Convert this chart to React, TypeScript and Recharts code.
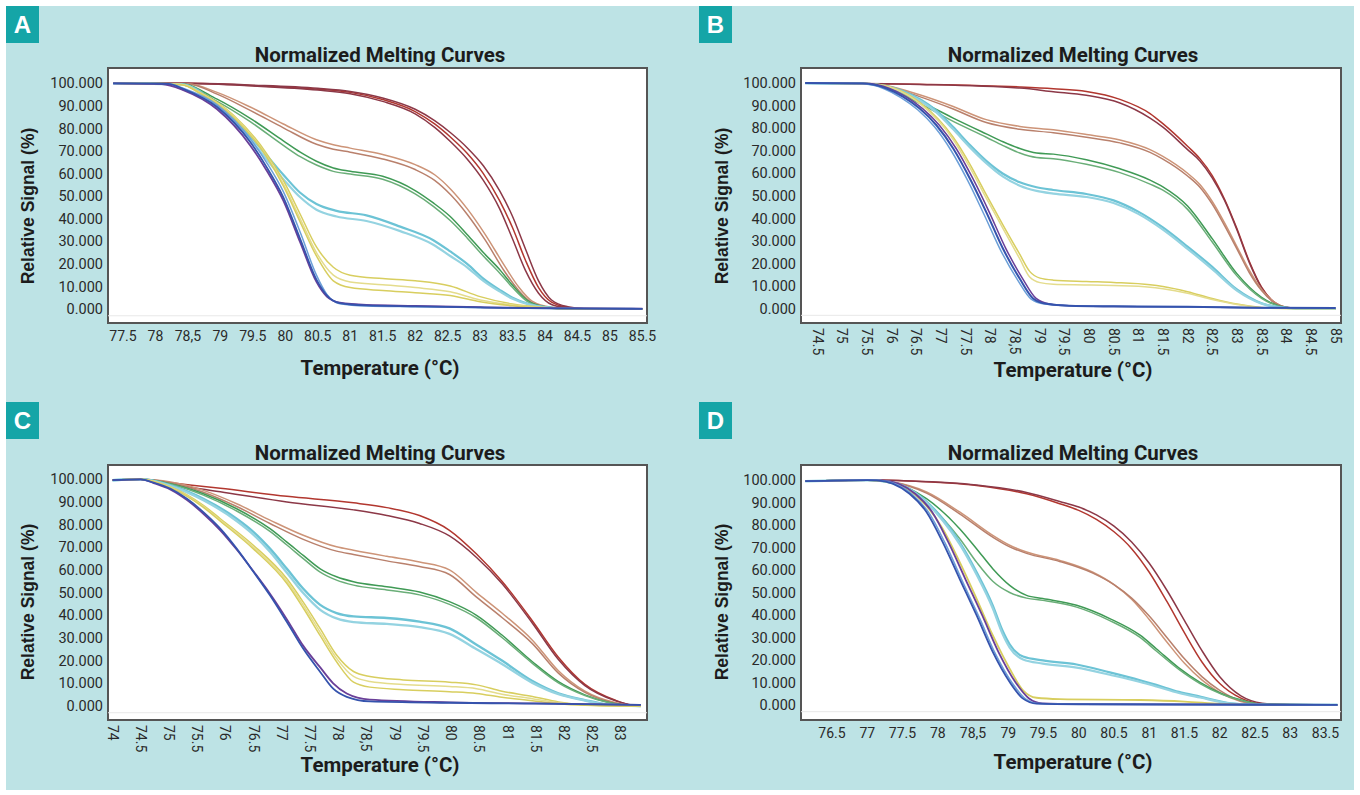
import React from "react";
import {
  CartesianGrid,
  Line,
  LineChart,
  ReferenceArea,
  ReferenceLine,
  XAxis,
  YAxis,
} from "recharts";

type Pt = [number, number];

// ---------- Panel A (temperature °C, relative signal %) ----------
const aRed1: Pt[] = [[77.35, 100], [78.5, 100], [79.5, 99], [80.5, 97.4], [81, 96], [81.5, 92.8], [82, 87.5], [82.3, 82], [82.55, 76], [82.8, 69], [83.05, 60], [83.3, 48], [83.5, 36], [83.7, 21.5], [83.9, 9.5], [84.1, 3], [84.35, 0.7], [84.6, 0.1], [85.5, 0]];
const aRed2: Pt[] = [[77.35, 100], [78.5, 100], [79.5, 99.2], [80.5, 97.8], [81, 96.4], [81.5, 93.5], [82, 88.5], [82.3, 83.5], [82.55, 78], [82.8, 71.5], [83.05, 63.5], [83.3, 52.5], [83.5, 41], [83.7, 26.5], [83.9, 12.5], [84.1, 4], [84.35, 1], [84.6, 0.2], [85.5, 0]];
const aRed3: Pt[] = [[77.35, 100], [78.5, 99.9], [79.5, 98.8], [80.5, 97], [81, 95.4], [81.5, 92], [82, 86.5], [82.3, 80.5], [82.55, 74], [82.8, 66.5], [83.05, 57], [83.3, 44.5], [83.5, 31], [83.7, 17], [83.9, 7], [84.1, 2], [84.35, 0.5], [84.6, 0], [85.5, 0]];
const aSalmon1: Pt[] = [[77.35, 100], [78.5, 99.8], [78.95, 96], [79.46, 89.5], [79.97, 82], [80.48, 75], [80.74, 72.8], [81, 71.3], [81.5, 68.5], [82, 64], [82.3, 59.5], [82.55, 53], [82.8, 44.5], [83.08, 33], [83.38, 19], [83.6, 9.5], [83.8, 3.5], [84.1, 0.8], [84.5, 0.1], [85.5, 0]];
const aSalmon2: Pt[] = [[77.35, 100], [78.5, 99.7], [78.95, 95.2], [79.46, 88], [79.97, 80.3], [80.48, 73], [80.74, 70.8], [81, 69.5], [81.5, 66.5], [82, 61.8], [82.3, 57], [82.55, 50.5], [82.8, 42], [83.08, 30.5], [83.38, 16.5], [83.6, 8], [83.8, 2.8], [84.1, 0.5], [84.5, 0], [85.5, 0]];
const aGreen1: Pt[] = [[77.35, 100], [78.4, 99.8], [78.95, 93], [79.46, 84.5], [79.97, 74.5], [80.23, 69.5], [80.48, 65.5], [80.74, 62.5], [81, 61], [81.5, 58.8], [82, 52.5], [82.28, 47], [82.54, 41], [82.8, 33], [83.05, 25], [83.3, 17.5], [83.5, 10.5], [83.72, 4], [84, 1], [84.4, 0.1], [85.5, 0]];
const aGreen2: Pt[] = [[77.35, 100], [78.4, 99.7], [78.95, 92], [79.46, 83], [79.97, 72.5], [80.23, 67.5], [80.48, 63.8], [80.74, 61], [81, 59.8], [81.5, 57.5], [82, 51], [82.28, 45.5], [82.54, 39.2], [82.8, 31.5], [83.05, 23.5], [83.3, 16], [83.5, 9.5], [83.72, 3.5], [84, 0.8], [84.4, 0.1], [85.5, 0]];
const aCyan1: Pt[] = [[77.35, 100], [78.4, 99.6], [78.95, 90.5], [79.46, 76.5], [79.97, 59.5], [80.23, 51.5], [80.48, 46.5], [80.79, 43.5], [81.25, 41.5], [81.77, 36.5], [82.28, 30.5], [82.54, 25.5], [82.8, 20], [83.05, 13.5], [83.3, 8.5], [83.5, 5], [83.75, 2.2], [84, 0.8], [84.4, 0.1], [85.5, 0]];
const aCyan2: Pt[] = [[77.35, 100], [78.4, 99.5], [78.95, 89.5], [79.46, 75], [79.97, 57.5], [80.23, 49.5], [80.48, 44], [80.79, 41], [81.25, 39], [81.77, 34.5], [82.28, 28.5], [82.54, 23.5], [82.8, 18.5], [83.05, 12.5], [83.3, 7.8], [83.5, 4.5], [83.75, 2], [84, 0.7], [84.4, 0.1], [85.5, 0]];
const aYellow1: Pt[] = [[77.35, 100], [78.4, 99.5], [78.69, 96], [79.2, 86], [79.71, 69], [79.97, 57], [80.23, 42], [80.48, 27.5], [80.74, 18.5], [81, 15], [81.5, 13.5], [82, 12.5], [82.54, 10.2], [83, 5.5], [83.5, 2.2], [84, 0.7], [84.5, 0.1], [85.5, 0]];
const aYellow2: Pt[] = [[77.35, 100], [78.4, 99.5], [78.69, 95.8], [79.2, 85.5], [79.71, 68], [79.97, 55.5], [80.23, 40], [80.48, 25], [80.74, 15], [81, 12], [81.5, 10.8], [82, 9.5], [82.54, 7.6], [83, 4], [83.5, 1.8], [84, 0.5], [84.5, 0.1], [85.5, 0]];
const aYellow3: Pt[] = [[77.35, 100], [78.4, 99.4], [78.69, 95.5], [79.2, 85], [79.71, 67.5], [79.97, 54.5], [80.23, 38.5], [80.48, 23.5], [80.74, 12.5], [81, 9.5], [81.5, 8.2], [82, 7.2], [82.54, 6], [83, 3.2], [83.5, 1.4], [84, 0.4], [84.5, 0], [85.5, 0]];
const aBlue1: Pt[] = [[77.35, 100], [78.2, 99.8], [78.43, 97.5], [78.95, 89.5], [79.46, 74], [79.71, 63], [79.97, 49.5], [80.23, 31], [80.48, 13], [80.64, 6], [80.84, 2.6], [81.25, 1.6], [82, 1.2], [83, 0.7], [84, 0.3], [85.5, 0.1]];
const aBlue2: Pt[] = [[77.35, 100], [78.2, 99.8], [78.43, 97.8], [78.95, 90.5], [79.46, 75.5], [79.71, 65], [79.97, 52], [80.23, 34], [80.48, 15], [80.64, 6.5], [80.84, 2.3], [81.25, 1.3], [82, 1], [83, 0.6], [84, 0.3], [85.5, 0.1]];
const aPurple: Pt[] = [[77.35, 100], [78.1, 99.7], [78.43, 97], [78.95, 88.5], [79.46, 72.5], [79.71, 61.5], [79.97, 48], [80.23, 29.5], [80.48, 12], [80.64, 5.5], [80.84, 2.8], [81.25, 1.8], [82, 1.4], [83, 0.8], [84, 0.4], [85.5, 0.2]];
const aTicks = ["77.5", "78", "78,5", "79", "79.5", "80", "80.5", "81", "81.5", "82", "82.5", "83", "83.5", "84", "84.5", "85", "85.5"];

// ---------- Panel B ----------
const bRed1: Pt[] = [[74.25, 100], [76.57, 99.5], [78.6, 98.3], [79.28, 97.5], [79.95, 96.3], [80.63, 92.8], [81.24, 86.5], [81.5, 82], [82, 72], [82.25, 66.5], [82.5, 59], [82.75, 48.5], [83, 35.5], [83.25, 21], [83.5, 9.5], [83.75, 3], [84, 0.6], [84.3, 0], [85, 0]];
const bRed2: Pt[] = [[74.25, 100], [76.57, 99.4], [78.6, 97.8], [79.28, 96.2], [79.95, 94.6], [80.63, 91.2], [81.24, 84.5], [81.5, 80.5], [82, 70.5], [82.25, 65.5], [82.5, 58], [82.75, 48], [83, 35], [83.25, 20.5], [83.5, 9.2], [83.75, 2.8], [84, 0.5], [84.3, 0], [85, 0]];
const bSalmon1: Pt[] = [[74.25, 100], [75.5, 99.8], [75.9, 98.8], [76.57, 94.8], [77.25, 89.6], [77.92, 83.8], [78.6, 80.8], [79.28, 79.3], [79.95, 77.2], [80.63, 74.8], [81.24, 70.5], [81.5, 67.5], [82, 60], [82.25, 55], [82.5, 47.5], [82.75, 38], [83, 27.5], [83.25, 17], [83.5, 8.5], [83.75, 3], [84, 0.6], [84.3, 0], [85, 0]];
const bSalmon2: Pt[] = [[74.25, 100], [75.5, 99.7], [75.9, 98.5], [76.57, 94], [77.25, 88.5], [77.92, 82.5], [78.6, 79.5], [79.28, 78], [79.95, 76], [80.63, 73.5], [81.24, 69.3], [81.5, 66.3], [82, 58.8], [82.25, 53.8], [82.5, 46.3], [82.75, 36.8], [83, 26.5], [83.25, 16], [83.5, 8], [83.75, 2.7], [84, 0.5], [84.3, 0], [85, 0]];
const bGreen1: Pt[] = [[74.25, 100], [75.5, 99.8], [75.9, 98.4], [76.57, 92], [77.25, 84.5], [77.92, 77.5], [78.26, 74], [78.6, 71], [78.94, 69], [79.28, 68.5], [79.95, 66], [80.63, 62], [81.24, 57], [81.5, 54], [82, 45.5], [82.5, 31], [83, 15.5], [83.5, 5], [84, 0.5], [84.3, 0], [85, 0]];
const bGreen2: Pt[] = [[74.25, 100], [75.5, 99.7], [75.9, 98], [76.57, 91], [77.25, 83], [77.92, 76], [78.26, 72.3], [78.6, 69], [78.94, 67], [79.28, 66.5], [79.95, 64], [80.63, 60.3], [81.24, 55.2], [81.5, 52.5], [82, 44], [82.5, 29.5], [83, 14.5], [83.5, 4.5], [84, 0.4], [84.3, 0], [85, 0]];
const bCyan1: Pt[] = [[74.25, 100], [75.5, 99.7], [76.23, 96.5], [76.91, 87.8], [77.25, 80.5], [77.59, 72.5], [77.92, 65.5], [78.26, 59.8], [78.6, 56], [78.94, 53.8], [79.28, 52.6], [79.95, 50.8], [80.5, 48], [81, 43], [81.5, 36], [82, 27.5], [82.5, 18.5], [83, 8.5], [83.5, 2.4], [84, 0.3], [84.3, 0], [85, 0]];
const bCyan2: Pt[] = [[74.25, 100], [75.5, 99.6], [76.23, 96], [76.91, 87], [77.25, 79.5], [77.59, 71.5], [77.92, 64.5], [78.26, 58.5], [78.6, 54.5], [78.94, 52.2], [79.28, 51], [79.95, 49.5], [80.5, 46.8], [81, 42], [81.5, 35], [82, 26.5], [82.5, 17.5], [83, 8], [83.5, 2.2], [84, 0.3], [84.3, 0], [85, 0]];
const bYellow1: Pt[] = [[74.25, 100], [75.6, 99.6], [76.57, 91.5], [77.25, 76], [77.59, 64], [77.92, 50.5], [78.26, 37], [78.6, 24], [78.8, 16.5], [79.01, 13.5], [79.28, 12.6], [79.95, 12], [80.5, 11.6], [81.24, 10.6], [81.5, 9.8], [82, 7.5], [82.5, 4.5], [83, 2], [83.5, 0.5], [84, 0], [85, 0]];
const bYellow2: Pt[] = [[74.25, 100], [75.6, 99.5], [76.57, 91], [77.25, 75], [77.59, 62.5], [77.92, 49], [78.26, 35.5], [78.6, 22], [78.8, 14], [79.01, 11.5], [79.28, 10.8], [79.95, 10.5], [80.5, 10.2], [81.24, 9.5], [81.5, 8.8], [82, 6.8], [82.5, 4], [83, 1.8], [83.5, 0.4], [84, 0], [85, 0]];
const bBlue1: Pt[] = [[74.25, 100], [75.42, 99.8], [75.9, 97.6], [76.23, 94], [76.57, 88.7], [76.91, 81.3], [77.25, 71], [77.59, 57.6], [77.92, 42.8], [78.26, 26.5], [78.6, 13.2], [78.87, 4.5], [79.14, 2.1], [79.6, 1.3], [80.5, 1], [82, 0.8], [83.5, 0.4], [85, 0.2]];
const bBlue2: Pt[] = [[74.25, 100], [75.4, 99.8], [75.86, 97.4], [76.19, 93.6], [76.53, 88.2], [76.87, 80.6], [77.21, 70], [77.55, 56.5], [77.88, 41.5], [78.22, 25.5], [78.56, 12.5], [78.83, 4.2], [79.1, 2], [79.6, 1.2], [80.5, 0.9], [82, 0.7], [83.5, 0.3], [85, 0.1]];
const bPurple: Pt[] = [[74.25, 100], [75.5, 99.8], [75.96, 97.6], [76.29, 94], [76.63, 88.7], [76.97, 81.3], [77.31, 71], [77.65, 57.6], [77.98, 42.8], [78.32, 26.5], [78.66, 13.2], [78.93, 4.5], [79.2, 2], [79.6, 1.2], [80.5, 0.9], [82, 0.7], [83.5, 0.3], [85, 0.1]];
const bTicks = ["74.5", "75", "75.5", "76", "76.5", "77", "77.5", "78", "78,5", "79", "79.5", "80", "80.5", "81", "81.5", "82", "82.5", "83", "83.5", "84", "84.5", "85"];

// ---------- Panel C ----------
const cRed1: Pt[] = [[74, 99.6], [74.5, 100], [74.73, 99.3], [75.91, 96], [77.09, 92.5], [78.27, 89.6], [78.86, 87.5], [79.44, 84], [79.97, 77.5], [80.45, 67], [80.9, 55], [81.44, 37.5], [81.9, 21.5], [82.37, 9.5], [82.9, 2.6], [83.2, 0.4], [83.36, 0.2]];
const cRed2: Pt[] = [[74, 99.6], [74.5, 100], [74.73, 99], [75.91, 94.5], [77.09, 90], [78.27, 86.5], [78.86, 84], [79.44, 80.5], [79.97, 75], [80.45, 65.5], [80.9, 54], [81.44, 36.5], [81.9, 20.5], [82.37, 9], [82.9, 2.4], [83.2, 0.4], [83.36, 0.2]];
const cSalmon1: Pt[] = [[74, 99.6], [74.5, 100], [75.03, 98.8], [75.61, 95.1], [76.2, 89.2], [76.79, 82], [77.38, 75.3], [77.97, 70.2], [78.27, 68.7], [78.86, 66], [79.44, 63.5], [79.97, 60], [80.45, 50], [80.9, 41], [81.44, 29], [81.9, 15.5], [82.37, 6.5], [82.9, 1.5], [83.2, 0.3], [83.36, 0.1]];
const cSalmon2: Pt[] = [[74, 99.6], [74.5, 100], [75.03, 98.5], [75.61, 94.3], [76.2, 88], [76.79, 80.5], [77.38, 73.5], [77.97, 68.3], [78.27, 66.8], [78.86, 64], [79.44, 61.5], [79.97, 58], [80.45, 48], [80.9, 39], [81.44, 27.5], [81.9, 14.5], [82.37, 6], [82.9, 1.3], [83.2, 0.2], [83.36, 0.1]];
const cGreen1: Pt[] = [[74, 99.6], [74.5, 100], [75.03, 98], [75.61, 93.6], [76.2, 87], [76.79, 78.2], [77.09, 72.3], [77.38, 66.4], [77.68, 60.5], [77.97, 57], [78.27, 54.8], [78.86, 52.6], [79.44, 50.3], [79.97, 46], [80.45, 40], [80.9, 31.3], [81.44, 19.5], [81.9, 10.7], [82.37, 4.9], [82.8, 1.5], [83.1, 0.3], [83.36, 0.1]];
const cGreen2: Pt[] = [[74, 99.6], [74.5, 100], [75.03, 97.8], [75.61, 93], [76.2, 86], [76.79, 77], [77.09, 71], [77.38, 65], [77.68, 59], [77.97, 55.5], [78.27, 53.3], [78.86, 51.2], [79.44, 49], [79.97, 44.8], [80.45, 38.8], [80.9, 30.2], [81.44, 18.8], [81.9, 10.2], [82.37, 4.6], [82.8, 1.4], [83.1, 0.3], [83.36, 0.1]];
const cCyan1: Pt[] = [[74, 99.6], [74.5, 100], [75.03, 97.3], [75.61, 91.4], [76.2, 82.6], [76.5, 76.7], [76.79, 69.4], [77.09, 60.5], [77.38, 51.7], [77.68, 44.6], [77.97, 41], [78.27, 39.5], [78.86, 38.8], [79.44, 37.2], [79.97, 34.2], [80.45, 27], [80.9, 20], [81.44, 11], [81.9, 5.6], [82.37, 2.6], [82.8, 0.6], [83.36, 0]];
const cCyan2: Pt[] = [[74, 99.6], [74.5, 100], [75.03, 97], [75.61, 90.8], [76.2, 81.6], [76.5, 75.5], [76.79, 68], [77.09, 58.8], [77.38, 49.8], [77.68, 42.4], [77.97, 38.6], [78.27, 37], [78.86, 36.2], [79.44, 34.8], [79.97, 31.8], [80.45, 25], [80.9, 18.5], [81.44, 10.2], [81.9, 5.2], [82.37, 2.4], [82.8, 0.5], [83.36, 0]];
const cYellow1: Pt[] = [[74, 99.6], [74.5, 100], [75.03, 96.6], [75.61, 88.5], [75.91, 82.6], [76.5, 70.8], [77.09, 56.1], [77.38, 45.8], [77.68, 34.1], [77.97, 22.5], [78.27, 15.2], [78.56, 13], [79.15, 11.5], [79.97, 10.5], [80.45, 9.3], [80.9, 6.5], [81.44, 4.2], [81.9, 1.8], [82.37, 0.5], [83, 0], [83.36, 0]];
const cYellow2: Pt[] = [[74, 99.6], [74.5, 100], [75.03, 96.4], [75.61, 88], [75.91, 82], [76.5, 70], [77.09, 55], [77.38, 44.5], [77.68, 32.5], [77.97, 21], [78.27, 13], [78.56, 10.8], [79.15, 9.5], [79.97, 8.6], [80.45, 7.6], [80.9, 5.2], [81.44, 3.2], [81.9, 1.4], [82.37, 0.4], [83, 0], [83.36, 0]];
const cYellow3: Pt[] = [[74, 99.6], [74.5, 100], [75.03, 96.2], [75.61, 87.6], [75.91, 81.5], [76.5, 69.2], [77.09, 54], [77.38, 43.2], [77.68, 31], [77.97, 19.5], [78.27, 10.5], [78.56, 8.3], [79.15, 7.2], [79.97, 6.3], [80.45, 5.5], [80.9, 3.8], [81.44, 2.3], [81.9, 1], [82.37, 0.3], [83, 0], [83.36, 0]];
const cBlue: Pt[] = [[74, 99.6], [74.5, 100], [74.73, 98.5], [75.03, 95.8], [75.32, 91.4], [75.61, 85.5], [75.91, 78.2], [76.2, 69.4], [76.5, 59.1], [76.79, 48.8], [77.09, 37], [77.38, 25.2], [77.68, 15], [77.91, 7.6], [78.15, 4], [78.56, 2], [79.97, 1.4], [81.5, 1], [83.36, 0.5]];
const cPurple: Pt[] = [[74, 99.6], [74.5, 100], [74.73, 98.3], [75.03, 95.4], [75.32, 90.8], [75.61, 84.8], [75.91, 77.5], [76.2, 69], [76.5, 59.3], [76.79, 49.5], [77.09, 38.2], [77.38, 26.5], [77.68, 17], [77.91, 10], [78.15, 5.5], [78.56, 2.8], [79.97, 1.6], [81.5, 1.1], [83.36, 0.5]];
const cTicks = ["74", "74.5", "75", "75.5", "76", "76.5", "77", "77.5", "78", "78,5", "79", "79.5", "80", "80.5", "81", "81.5", "82", "82.5", "83"];

// ---------- Panel D ----------
const dRed1: Pt[] = [[76.12, 99.5], [77, 100], [77.6, 99.6], [78.55, 97.6], [79.26, 93.9], [79.73, 89.5], [80, 86.5], [80.25, 82.5], [80.5, 77], [80.75, 69.5], [81, 59], [81.25, 46], [81.5, 32], [81.75, 19], [82, 9.5], [82.3, 3], [82.6, 0.5], [83, 0.1], [83.67, 0]];
const dRed2: Pt[] = [[76.12, 99.5], [77, 100], [77.6, 99.6], [78.55, 97.8], [79.26, 94.5], [79.73, 90.5], [80, 88], [80.25, 84.5], [80.5, 79.5], [80.75, 72.5], [81, 63], [81.25, 51], [81.5, 37.5], [81.75, 24], [82, 12.5], [82.3, 4], [82.6, 0.8], [83, 0.1], [83.67, 0]];
const dSalmon1: Pt[] = [[76.12, 99.5], [77, 100], [77.36, 99.1], [77.84, 94.7], [78.31, 85.8], [78.78, 75.4], [79.02, 71], [79.26, 68], [79.73, 64.3], [80.2, 59], [80.5, 53.5], [80.75, 47], [81, 38], [81.25, 28], [81.5, 18.5], [81.75, 11], [82, 5.5], [82.3, 1.5], [82.6, 0.1], [83.67, 0]];
const dSalmon2: Pt[] = [[76.12, 99.5], [77, 100], [77.36, 99], [77.84, 94.2], [78.31, 85], [78.78, 74.6], [79.02, 70.3], [79.26, 67.4], [79.73, 63.8], [80.2, 58.6], [80.5, 53.5], [80.75, 47.5], [81, 39.5], [81.25, 30], [81.5, 20.5], [81.75, 12.5], [82, 6.5], [82.3, 1.8], [82.6, 0.2], [83.67, 0]];
const dGreen1: Pt[] = [[76.12, 99.5], [77, 100], [77.36, 98.8], [77.84, 91.7], [78.31, 78.4], [78.55, 69.5], [78.78, 60.6], [79.02, 53.2], [79.26, 48.7], [79.49, 47.3], [79.97, 44.3], [80.44, 38.4], [80.87, 31], [81.1, 25], [81.42, 16.5], [81.72, 10], [82.03, 5], [82.33, 2], [82.6, 0.3], [83.67, 0]];
const dGreen2: Pt[] = [[76.12, 99.5], [77, 100], [77.36, 98.5], [77.84, 90], [78.31, 74], [78.55, 63.5], [78.78, 55], [79.02, 50], [79.26, 47.5], [79.49, 46.5], [79.97, 43.5], [80.44, 37.5], [80.87, 30], [81.1, 24], [81.42, 15.8], [81.72, 9.5], [82.03, 4.7], [82.33, 1.8], [82.6, 0.3], [83.67, 0]];
const dCyan1: Pt[] = [[76.12, 99.5], [77, 100], [77.3, 99.3], [77.6, 96.1], [78.07, 82.8], [78.31, 72.4], [78.55, 59.1], [78.78, 44.3], [78.92, 33], [79.02, 27], [79.21, 21.5], [79.49, 19.8], [79.97, 18], [80.44, 14.5], [80.87, 11], [81.1, 8.9], [81.42, 5.8], [81.72, 3.7], [82.16, 0.7], [82.5, 0.1], [83.67, 0]];
const dCyan2: Pt[] = [[76.12, 99.5], [77, 100], [77.3, 99.2], [77.6, 95.8], [78.07, 82], [78.31, 71.5], [78.55, 58], [78.78, 43], [78.92, 31.5], [79.02, 25.5], [79.21, 20.2], [79.49, 18.4], [79.97, 16.6], [80.44, 13.4], [80.87, 10.2], [81.1, 8.2], [81.42, 5.3], [81.72, 3.3], [82.16, 0.6], [82.5, 0.1], [83.67, 0]];
const dYellow: Pt[] = [[76.12, 99.5], [77, 100], [77.3, 99.3], [77.6, 95.4], [78.07, 78.4], [78.31, 63.6], [78.55, 47.3], [78.78, 31], [79.02, 16.1], [79.21, 6.5], [79.4, 3.2], [79.73, 2.6], [80.87, 2.2], [81.5, 1.5], [82, 0.5], [82.4, 0], [83.67, 0]];
const dBlue1: Pt[] = [[76.12, 99.5], [77, 100], [77.13, 99.9], [77.36, 98.4], [77.6, 93.9], [77.84, 85.8], [78.07, 72.4], [78.31, 56.1], [78.55, 39.9], [78.78, 23.6], [79.02, 10.2], [79.21, 2.8], [79.4, 0.6], [80, 0.3], [83.67, 0]];
const dBlue2: Pt[] = [[76.12, 99.5], [77, 100], [77.15, 99.9], [77.4, 98.3], [77.64, 93.6], [77.88, 85.2], [78.11, 71.6], [78.35, 55], [78.59, 38.8], [78.82, 22.6], [79.06, 9.6], [79.25, 2.6], [79.44, 0.6], [80, 0.3], [83.67, 0]];
const dPurple: Pt[] = [[76.12, 99.5], [77, 100], [77.2, 99.9], [77.44, 98.4], [77.68, 93.9], [77.92, 85.8], [78.15, 72.4], [78.39, 56.1], [78.63, 39.9], [78.86, 23.6], [79.1, 10.2], [79.29, 3], [79.48, 0.7], [80, 0.4], [83.67, 0]];
const dTicks = ["76.5", "77", "77.5", "78", "78,5", "79", "79.5", "80", "80.5", "81", "81.5", "82", "82.5", "83", "83.5"];

const yTicks = [0, 10, 20, 30, 40, 50, 60, 70, 80, 90, 100];

// colours
const RED1 = "#b2372f";
const RED2 = "#8c3847";
const SALMON1 = "#cd9478";
const SALMON2 = "#b9806c";
const GREEN1 = "#3f9a55";
const GREEN2 = "#6aae78";
const CYAN1 = "#6cc3d5";
const CYAN2 = "#94d3e1";
const YELLOW1 = "#d8ce5f";
const YELLOW2 = "#e4dc8c";
const BLUE = "#3553ad";
const LIGHTBLUE = "#6b9fd8";
const PURPLE = "#6a3f98";

const BG = "#bde3e5";
const TEAL = "#15a5a7";
const TICK_FONT = "Roboto, 'Liberation Sans', sans-serif";

interface Series {
  data: Pt[];
  color: string;
  width?: number;
}

const toRows = (pts: Pt[]) => pts.map(([t, v]) => ({ t, v }));

const parseTick = (s: string) => parseFloat(s.replace(",", "."));

interface PanelProps {
  letter: string;
  ox: number;
  oy: number;
  plot: { l: number; t: number; r: number; b: number };
  xDomain: [number, number];
  yDomain: [number, number];
  ticks: string[];
  rotated: boolean;
  series: Series[];
  letterX: number;
  titleX: number;
  titleY: number;
  yLabelX: number;
  yLabelY: number;
  xLabelY: number;
}

const W = 680;
const H = 395;

function Panel(p: PanelProps) {
  const yAxisW = 60;
  const xAxisH = 40;
  const margin = {
    top: p.plot.t,
    left: p.plot.l - yAxisW,
    right: W - p.plot.r,
    bottom: H - p.plot.b - xAxisH,
  };
  const tickVals = p.ticks.map(parseTick);

  const XTick = (props: any) => {
    const { x, y, payload } = props;
    const label =
      p.ticks.find((s) => Math.abs(parseTick(s) - payload.value) < 1e-6) ??
      String(payload.value);
    if (p.rotated) {
      return (
        <text
          x={x}
          y={y + 5}
          transform={`rotate(90 ${x} ${y + 5})`}
          textAnchor="start"
          dominantBaseline="central"
          fontSize={14}
          fontFamily={TICK_FONT}
          fill="#2a2a2a"
        >
          {label}
        </text>
      );
    }
    return (
      <text
        x={x}
        y={y + 13}
        textAnchor="middle"
        dominantBaseline="central"
        fontSize={14}
        fontFamily={TICK_FONT}
        fill="#2a2a2a"
      >
        {label}
      </text>
    );
  };

  return (
    <div style={{ position: "absolute", left: p.ox, top: p.oy, width: W, height: H }}>
      <div
        style={{
          position: "absolute",
          left: p.letterX,
          top: p.oy === 0 ? 6 : 7,
          width: 33,
          height: 37,
          background: TEAL,
          color: "#fff",
          fontFamily: "'Liberation Sans', Arial, sans-serif",
          fontWeight: 700,
          fontSize: 24,
          lineHeight: "37px",
          textAlign: "center",
        }}
      >
        {p.letter}
      </div>
      <div
        style={{
          position: "absolute",
          left: p.titleX,
          top: p.titleY,
          transform: "translate(-50%, -50%)",
          whiteSpace: "nowrap",
          fontFamily: "Roboto, sans-serif",
          fontWeight: 700,
          fontSize: 20.5,
          color: "#1c1c1c",
        }}
      >
        Normalized Melting Curves
      </div>
      <div
        style={{
          position: "absolute",
          left: p.yLabelX,
          top: p.yLabelY,
          transform: "translate(-50%, -50%) rotate(-90deg)",
          whiteSpace: "nowrap",
          fontFamily: "'Liberation Sans', Arial, sans-serif",
          fontWeight: 700,
          fontSize: 17.5,
          color: "#1c1c1c",
        }}
      >
        Relative Signal (%)
      </div>
      <div
        style={{
          position: "absolute",
          left: p.titleX,
          top: p.xLabelY,
          transform: "translate(-50%, -50%)",
          whiteSpace: "nowrap",
          fontFamily: "Roboto, sans-serif",
          fontWeight: 700,
          fontSize: 20.5,
          color: "#1c1c1c",
        }}
      >
        Temperature (°C)
      </div>
      <div style={{ position: "absolute", left: 0, top: 0 }}>
        <LineChart width={W} height={H} margin={margin}>
          <CartesianGrid horizontal={false} vertical={false} fill="#ffffff" fillOpacity={1} />
          <XAxis
            type="number"
            dataKey="t"
            domain={p.xDomain}
            allowDataOverflow
            ticks={tickVals}
            interval={0}
            height={xAxisH}
            axisLine={false}
            tickLine={false}
            tickSize={0}
            tickMargin={0}
            tick={<XTick />}
          />
          <YAxis
            type="number"
            dataKey="v"
            domain={p.yDomain}
            allowDataOverflow
            ticks={yTicks}
            interval={0}
            width={yAxisW}
            axisLine={false}
            tickLine={false}
            tickSize={0}
            tickMargin={5}
            tickFormatter={(v: number) => v.toFixed(3)}
            tick={{ fontSize: 14.5, fontFamily: TICK_FONT, fill: "#2a2a2a" }}
          />
          <ReferenceLine y={-3} stroke="#e8e8e8" strokeWidth={1} />
          {p.series.map((s, i) => (
            <Line
              key={i}
              data={toRows(s.data)}
              dataKey="v"
              type="monotone"
              stroke={s.color}
              strokeWidth={s.width ?? 1.5}
              dot={false}
              activeDot={false}
              isAnimationActive={false}
            />
          ))}
          <ReferenceArea
            x1={p.xDomain[0]}
            x2={p.xDomain[1]}
            y1={p.yDomain[0]}
            y2={p.yDomain[1]}
            fill="none"
            fillOpacity={0}
            stroke="#555"
            strokeWidth={2}
            ifOverflow="visible"
          />
        </LineChart>
      </div>
    </div>
  );
}

const seriesA: Series[] = [
  { data: aRed1, color: RED1 },
  { data: aRed2, color: RED2 },
  { data: aRed3, color: RED2 },
  { data: aSalmon1, color: SALMON1 },
  { data: aSalmon2, color: SALMON2 },
  { data: aGreen1, color: GREEN1 },
  { data: aGreen2, color: GREEN2 },
  { data: aCyan1, color: CYAN1, width: 2.2 },
  { data: aCyan2, color: CYAN2, width: 2.2 },
  { data: aYellow1, color: YELLOW1 },
  { data: aYellow2, color: YELLOW2 },
  { data: aYellow3, color: YELLOW1 },
  { data: aBlue2, color: LIGHTBLUE },
  { data: aPurple, color: PURPLE, width: 1.8 },
  { data: aBlue1, color: BLUE, width: 1.8 },
];

const seriesB: Series[] = [
  { data: bRed1, color: RED1 },
  { data: bRed2, color: RED2 },
  { data: bSalmon1, color: SALMON1 },
  { data: bSalmon2, color: SALMON2 },
  { data: bGreen1, color: GREEN1 },
  { data: bGreen2, color: GREEN2 },
  { data: bCyan1, color: CYAN1, width: 2.2 },
  { data: bCyan2, color: CYAN2, width: 2.2 },
  { data: bYellow1, color: YELLOW1 },
  { data: bYellow2, color: YELLOW2 },
  { data: bPurple, color: PURPLE },
  { data: bBlue2, color: LIGHTBLUE },
  { data: bBlue1, color: BLUE, width: 2 },
];

const seriesC: Series[] = [
  { data: cRed1, color: RED1 },
  { data: cRed2, color: RED2 },
  { data: cSalmon1, color: SALMON1 },
  { data: cSalmon2, color: SALMON2 },
  { data: cGreen1, color: GREEN1 },
  { data: cGreen2, color: GREEN2 },
  { data: cCyan1, color: CYAN1, width: 2.4 },
  { data: cCyan2, color: CYAN2, width: 2.4 },
  { data: cYellow1, color: YELLOW1 },
  { data: cYellow2, color: YELLOW2 },
  { data: cYellow3, color: YELLOW1 },
  { data: cPurple, color: PURPLE, width: 1.8 },
  { data: cBlue, color: BLUE, width: 1.8 },
];

const seriesD: Series[] = [
  { data: dRed1, color: RED1 },
  { data: dRed2, color: RED2 },
  { data: dSalmon1, color: SALMON1 },
  { data: dSalmon2, color: SALMON2 },
  { data: dGreen1, color: GREEN1 },
  { data: dGreen2, color: GREEN2 },
  { data: dCyan1, color: CYAN1, width: 2.2 },
  { data: dCyan2, color: CYAN2, width: 2.2 },
  { data: dYellow, color: YELLOW1, width: 1.8 },
  { data: dPurple, color: PURPLE, width: 1.8 },
  { data: dBlue2, color: LIGHTBLUE },
  { data: dBlue1, color: BLUE, width: 1.8 },
];

export default function App() {
  return (
    <div
      style={{
        position: "absolute",
        left: 0,
        top: 0,
        width: 1360,
        height: 795,
        background: "#ffffff",
        overflow: "hidden",
      }}
    >
      <div
        style={{ position: "absolute", left: 6, top: 6, width: 1348, height: 784, background: BG }}
      />
      <Panel
        letter="A"
        ox={0}
        oy={0}
        plot={{ l: 108, t: 68, r: 647, b: 323 }}
        xDomain={[77.27, 85.57]}
        yDomain={[-6.2, 106.8]}
        ticks={aTicks}
        rotated={false}
        series={seriesA}
        letterX={6}
        titleX={380}
        titleY={55}
        yLabelX={28}
        yLabelY={206}
        xLabelY={368}
      />
      <Panel
        letter="B"
        ox={680}
        oy={0}
        plot={{ l: 121, t: 68, r: 661, b: 323 }}
        xDomain={[74.165, 85.11]}
        yDomain={[-6.4, 106.7]}
        ticks={bTicks}
        rotated={true}
        series={seriesB}
        letterX={19}
        titleX={393}
        titleY={55}
        yLabelX={42}
        yLabelY={206}
        xLabelY={370}
      />
      <Panel
        letter="C"
        ox={0}
        oy={395}
        plot={{ l: 108, t: 70, r: 647, b: 325 }}
        xDomain={[73.92, 83.47]}
        yDomain={[-6.2, 106.3]}
        ticks={cTicks}
        rotated={true}
        series={seriesC}
        letterX={6}
        titleX={380}
        titleY={58}
        yLabelX={28}
        yLabelY={207}
        xLabelY={370}
      />
      <Panel
        letter="D"
        ox={680}
        oy={395}
        plot={{ l: 121, t: 70, r: 661, b: 325 }}
        xDomain={[76.06, 83.72]}
        yDomain={[-6.7, 106.7]}
        ticks={dTicks}
        rotated={false}
        series={seriesD}
        letterX={19}
        titleX={393}
        titleY={58}
        yLabelX={42}
        yLabelY={207}
        xLabelY={367}
      />
    </div>
  );
}
